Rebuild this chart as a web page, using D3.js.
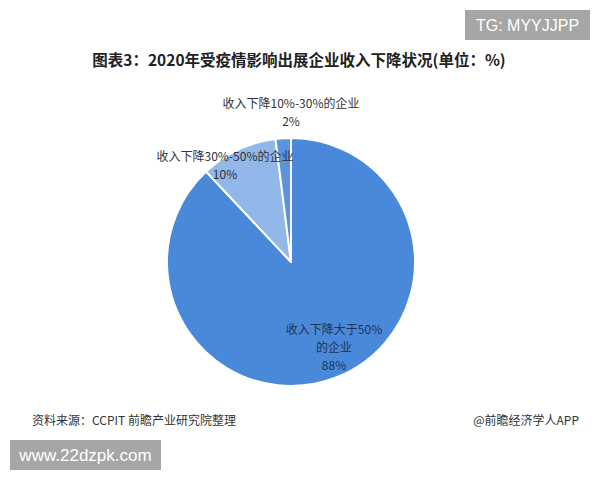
<!DOCTYPE html>
<html><head><meta charset="utf-8">
<script src="https://cdn.jsdelivr.net/npm/d3@7"></script>
<style>body{margin:0;background:#fff;} svg{display:block;}</style>
</head><body>
<svg id="c" width="600" height="480"></svg>
<script>
const categories = ["收入下降大于50%的企业", "收入下降30%-50%的企业", "收入下降10%-30%的企业"];
const values = [88, 10, 2];
const valueLabels = ["88%", "10%", "2%"];
const colors = ["#4a89d9", "#92b7e9", "#5a94dc"];

const svg = d3.select("#c");
const font = "'Microsoft YaHei','Noto Sans CJK SC',sans-serif";

// top-right badge
svg.append("rect").attr("x", 465).attr("y", 10).attr("width", 125).attr("height", 30).attr("fill", "#a6a6a6");
svg.append("text").attr("x", 527.5).attr("y", 31).attr("text-anchor", "middle")
  .attr("font-family", "Arial,'Liberation Sans',sans-serif").attr("font-size", 16).attr("fill", "#fff").text("TG: MYYJJPP");

// title
svg.append("text").attr("x", 299).attr("y", 66).attr("text-anchor", "middle")
  .attr("font-family", font).attr("font-weight", "bold").attr("font-size", 15.5).attr("fill", "#222")
  .text("图表3：2020年受疫情影响出展企业收入下降状况(单位：%)");

const cx = 291, cy = 262, r = 124;
const pie = d3.pie().sort(null).value(d => d)(values);
const arc = d3.arc().innerRadius(0).outerRadius(r);
const g = svg.append("g").attr("transform", `translate(${cx},${cy})`);
g.selectAll("path").data(pie).join("path")
  .attr("d", arc).attr("fill", (d, i) => colors[i])
  .attr("stroke", "#fff").attr("stroke-width", 2).attr("stroke-linejoin", "round");

function lbl(lines, x, y, fill) {
  const t = svg.append("text").attr("text-anchor", "middle").attr("font-family", font)
    .attr("font-size", 12).attr("fill", fill);
  lines.forEach((s, i) => t.append("tspan").attr("x", x).attr("y", y + i * 18).text(s));
}
lbl(["收入下降大于50%", "的企业", valueLabels[0]], 334, 334, "#1d3557");
lbl([categories[1], valueLabels[1]], 225, 161, "#333");
lbl([categories[2], valueLabels[2]], 291, 108, "#333");

// footer
svg.append("text").attr("x", 32).attr("y", 425).attr("font-family", font).attr("font-size", 12).attr("fill", "#333")
  .text("资料来源：CCPIT 前瞻产业研究院整理");
svg.append("text").attr("x", 579).attr("y", 425).attr("text-anchor", "end").attr("font-family", font).attr("font-size", 12).attr("fill", "#333")
  .text("@前瞻经济学人APP");

// bottom-left badge
svg.append("rect").attr("x", 10).attr("y", 440).attr("width", 151).attr("height", 30).attr("fill", "#a6a6a6");
svg.append("text").attr("x", 85.5).attr("y", 461).attr("text-anchor", "middle")
  .attr("font-family", "Arial,'Liberation Sans',sans-serif").attr("font-size", 17).attr("fill", "#fff").text("www.22dzpk.com");
</script>
</body></html>
